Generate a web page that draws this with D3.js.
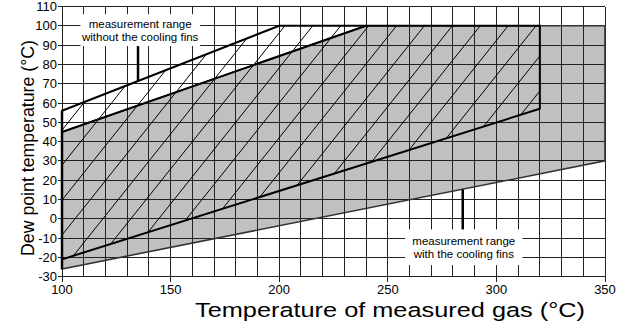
<!DOCTYPE html>
<html>
<head>
<meta charset="utf-8">
<script src="https://cdn.jsdelivr.net/npm/d3@7"></script>
<style>
  body { margin: 0; background: #fff; }
  text { font-family: Arial, "Liberation Sans", sans-serif; fill: #000; }
</style>
</head>
<body>
<svg id="chart"></svg>
<script>
// axis ticks
var xTicks = [100, 150, 200, 250, 300, 350];
var yTicks = [-30, -20, -10, 0, 10, 20, 30, 40, 50, 60, 70, 80, 90, 100, 110];
var gridT = [100, 110, 120, 130, 140, 150, 160, 170, 180, 190, 200, 210, 220, 230, 240, 250, 260, 270, 280, 290, 300, 310, 320, 330, 340, 350];

// measurement range with the cooling fins (grey area)
var finsTemp = [100, 100, 240, 350, 350];
var finsDew  = [-26, 45, 100, 100, 30];

// measurement range without the cooling fins (hatched area)
var noFinsTemp = [100, 100, 200, 320, 320];
var noFinsDew  = [-21, 56, 100, 100, 57];

// annotation labels
var labelText = [
  ['measurement range', 'without the cooling fins'],
  ['measurement range', 'with the cooling fins']
];
var labelBox = [[108.5, 163.5, 106, 89.5], [258, 312, -5.5, -24]];  // t0, t1, d0, d1
var pointerTemp = [135, 284.5];
var pointerDew = [[89.5, 71.4], [-5.5, 15.3]];

var width = 620, height = 325;
var svg = d3.select('#chart').attr('width', width).attr('height', height);

var x = d3.scaleLinear().domain([100, 350]).range([62, 605]);
var y = d3.scaleLinear().domain([-30, 110]).range([276.7, 6.5]);

function pts(ts, ds){
  return ts.map(function(t, i){ return [x(t), y(ds[i])]; });
}
var line = d3.line();

// grey area
svg.append('path')
  .attr('d', line(pts(finsTemp, finsDew)) + 'Z')
  .attr('fill', '#c0c0c0');

// grid
var grid = svg.append('g').attr('stroke', '#222').attr('stroke-width', 1).attr('shape-rendering', 'crispEdges');
grid.selectAll('.v').data(gridT).enter().append('line')
  .attr('x1', function(d){ return x(d); }).attr('x2', function(d){ return x(d); })
  .attr('y1', y(-30)).attr('y2', y(110));
grid.selectAll('.h').data(yTicks).enter().append('line')
  .attr('x1', x(100)).attr('x2', x(350))
  .attr('y1', function(d){ return y(d); }).attr('y2', function(d){ return y(d); });

// hatching, clipped to the area without the cooling fins
svg.append('clipPath').attr('id', 'hatchClip')
  .append('path').attr('d', line(pts(noFinsTemp, noFinsDew)) + 'Z');
var hatchSlope = 1.41, hatchStep = 12.85, hatchT = 165.8, hatchD = 30;
var hatchRows = d3.range(-20, 20);
svg.append('g').attr('clip-path', 'url(#hatchClip)')
  .selectAll('line').data(hatchRows).enter().append('line')
  .attr('x1', function(k){ return x(hatchT + k * hatchStep + (-30 - hatchD) / hatchSlope); })
  .attr('y1', y(-30))
  .attr('x2', function(k){ return x(hatchT + k * hatchStep + (110 - hatchD) / hatchSlope); })
  .attr('y2', y(110))
  .attr('stroke', '#000').attr('stroke-width', 1);

// outlines
svg.append('path')
  .attr('d', line(pts(finsTemp, finsDew)) + 'Z')
  .attr('fill', 'none').attr('stroke', '#333').attr('stroke-width', 1.6);
svg.append('path')
  .attr('d', line(pts(noFinsTemp, noFinsDew)) + 'Z')
  .attr('fill', 'none').attr('stroke', '#000').attr('stroke-width', 2);
svg.append('path')
  .attr('d', line(pts(finsTemp.slice(1, 3), finsDew.slice(1, 3))))
  .attr('fill', 'none').attr('stroke', '#000').attr('stroke-width', 2);
svg.append('line')
  .attr('x1', x(100)).attr('x2', x(100)).attr('y1', y(finsDew[0])).attr('y2', y(noFinsDew[1]))
  .attr('stroke', '#000').attr('stroke-width', 2.5);

// annotation boxes and pointers
labelText.forEach(function(lines, i){
  var b = labelBox[i];
  svg.append('rect')
    .attr('x', x(b[0])).attr('y', y(b[2]))
    .attr('width', x(b[1]) - x(b[0])).attr('height', y(b[3]) - y(b[2]))
    .attr('fill', '#fff');
  svg.append('line')
    .attr('x1', x(pointerTemp[i])).attr('x2', x(pointerTemp[i]))
    .attr('y1', y(pointerDew[i][0])).attr('y2', y(pointerDew[i][1]))
    .attr('stroke', '#000').attr('stroke-width', 2.5);
  var cx = (x(b[0]) + x(b[1])) / 2, cy = (y(b[2]) + y(b[3])) / 2;
  svg.append('text')
    .attr('text-anchor', 'middle').attr('font-size', 11.5)
    .selectAll('tspan').data(lines).enter().append('tspan')
    .attr('x', cx)
    .attr('y', function(d, j){ return cy + (j - 0.5) * 13 + 4; })
    .text(function(d){ return d; });
});

// ticks and tick labels
svg.append('g').selectAll('line').data(yTicks).enter().append('line')
  .attr('x1', x(100) - 4).attr('x2', x(100))
  .attr('y1', function(d){ return y(d); }).attr('y2', function(d){ return y(d); })
  .attr('stroke', '#222').attr('shape-rendering', 'crispEdges');
svg.append('g').selectAll('text').data(yTicks).enter().append('text')
  .attr('x', x(100) - 5).attr('y', function(d){ return y(d) + 4.5; })
  .attr('text-anchor', 'end').attr('font-size', 13)
  .text(function(d){ return d; });
svg.append('g').selectAll('line').data(xTicks).enter().append('line')
  .attr('x1', function(d){ return x(d); }).attr('x2', function(d){ return x(d); })
  .attr('y1', y(-30)).attr('y2', y(-30) + 5)
  .attr('stroke', '#222').attr('shape-rendering', 'crispEdges');
svg.append('g').selectAll('text').data(xTicks).enter().append('text')
  .attr('x', function(d){ return x(d); }).attr('y', y(-30) + 17)
  .attr('text-anchor', 'middle').attr('font-size', 13)
  .text(function(d){ return d; });

// axis titles
svg.append('text')
  .attr('x', 390).attr('y', 317)
  .attr('text-anchor', 'middle').attr('font-size', 20.5)
  .attr('textLength', 390).attr('lengthAdjust', 'spacingAndGlyphs')
  .text('Temperature of measured gas (°C)');
svg.append('text')
  .attr('transform', 'translate(34,148) rotate(-90)')
  .attr('text-anchor', 'middle').attr('font-size', 19)
  .attr('textLength', 216).attr('lengthAdjust', 'spacingAndGlyphs')
  .text('Dew point temperature (°C)');
</script>
</body>
</html>
